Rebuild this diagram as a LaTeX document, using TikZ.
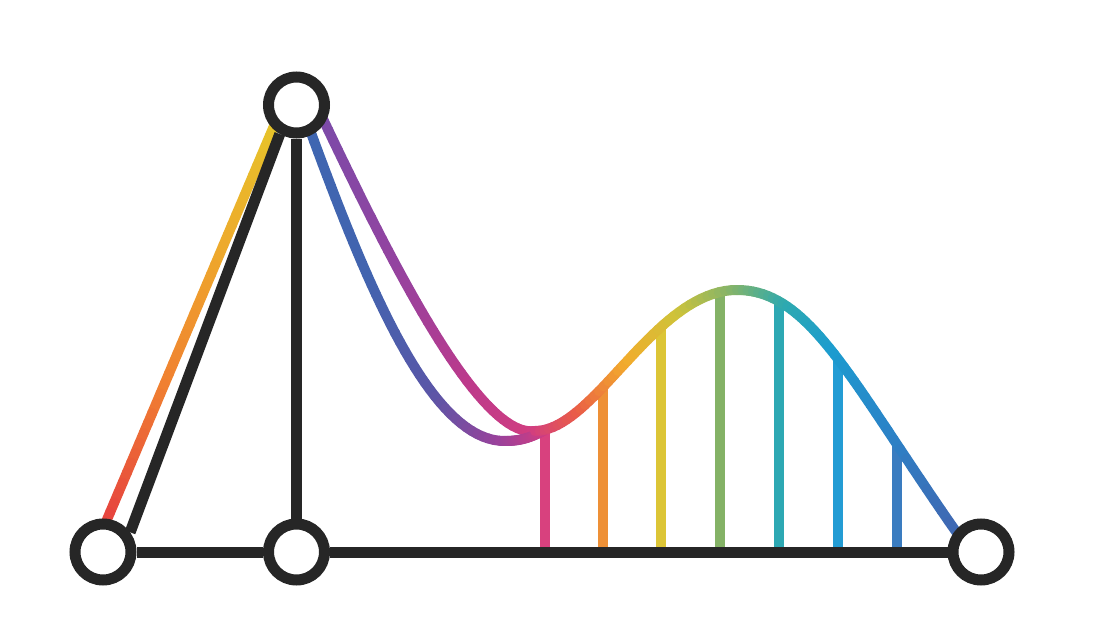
\documentclass[tikz,border=0pt]{standalone}
\usepackage{xcolor}
\definecolor{ink}{HTML}{262626}
% left straight line (top -> bottom)
\definecolor{lft0}{HTML}{E6C42A}
\definecolor{lft1}{HTML}{EEA82C}
\definecolor{lft2}{HTML}{F07F31}
\definecolor{lft3}{HTML}{E6443F}
% purple curve
\definecolor{pur0}{HTML}{7B4BA8}
\definecolor{pur1}{HTML}{9343A0}
\definecolor{pur2}{HTML}{BD3A8B}
\definecolor{pur3}{HTML}{D23E80}
% blue curve
\definecolor{blu0}{HTML}{3F66B1}
\definecolor{blu1}{HTML}{4264AF}
\definecolor{blu2}{HTML}{5A56A7}
\definecolor{blu3}{HTML}{9E419A}
\definecolor{bla0}{HTML}{9E419A}
\definecolor{bla1}{HTML}{CF3D82}
% main curve rising part
\definecolor{mna0}{HTML}{D23E80}
\definecolor{mna1}{HTML}{EA5E46}
\definecolor{mna2}{HTML}{F2AC2C}
\definecolor{mna3}{HTML}{CEC33A}
\definecolor{mna4}{HTML}{80B36C}
% main curve falling part
\definecolor{mnb0}{HTML}{80B36C}
\definecolor{mnb1}{HTML}{2EAAAF}
\definecolor{mnb2}{HTML}{1C9CCF}
\definecolor{mnb3}{HTML}{2A84C8}
\definecolor{mnb4}{HTML}{4068B2}
% verticals
\definecolor{vc1}{HTML}{D8417E}
\definecolor{vc2}{HTML}{EE9036}
\definecolor{vc3}{HTML}{DCC536}
\definecolor{vc4}{HTML}{84B266}
\definecolor{vc5}{HTML}{2DA8B3}
\definecolor{vc6}{HTML}{239CD4}
\definecolor{vc7}{HTML}{3A7CC0}
\tikzset{
  colline/.style={line width=10pt, line cap=round},
  vline/.style={line width=10pt},
  blk/.style={draw=ink, line width=11pt},
  nd/.style={circle, draw=ink, fill=white, line width=11pt, minimum size=56pt, inner sep=0pt},
}
% cubic Bezier drawn in 40 pieces with a colour gradient; \gzN = number of stops
\def\bezgrad(#1,#2)(#3,#4)(#5,#6)(#7,#8)#9{%
  \foreach \gzI in {0,...,39}{%
    \pgfmathsetmacro\gzTa{\gzI/40}%
    \pgfmathsetmacro\gzTb{(\gzI+1)/40}%
    \pgfmathsetmacro\gzXa{(1-\gzTa)^3*(#1)+3*(1-\gzTa)^2*\gzTa*(#3)+3*(1-\gzTa)*\gzTa^2*(#5)+\gzTa^3*(#7)}%
    \pgfmathsetmacro\gzYa{(1-\gzTa)^3*(#2)+3*(1-\gzTa)^2*\gzTa*(#4)+3*(1-\gzTa)*\gzTa^2*(#6)+\gzTa^3*(#8)}%
    \pgfmathsetmacro\gzXb{(1-\gzTb)^3*(#1)+3*(1-\gzTb)^2*\gzTb*(#3)+3*(1-\gzTb)*\gzTb^2*(#5)+\gzTb^3*(#7)}%
    \pgfmathsetmacro\gzYb{(1-\gzTb)^3*(#2)+3*(1-\gzTb)^2*\gzTb*(#4)+3*(1-\gzTb)*\gzTb^2*(#6)+\gzTb^3*(#8)}%
    \pgfmathsetmacro\gzS{(\gzI+0.5)/40*(\gzN-1)}%
    \pgfmathtruncatemacro\gzK{floor(\gzS)}%
    \pgfmathtruncatemacro\gzKK{\gzK+1}%
    \pgfmathtruncatemacro\gzP{round((\gzS-\gzK)*100)}%
    \colorlet{gzc}{#9\gzKK!\gzP!#9\gzK}%
    \draw[colline, gzc] (\gzXa,\gzYa) -- (\gzXb,\gzYb);
  }%
}
\begin{document}
\begin{tikzpicture}[x=1pt, y=-1pt]
\useasboundingbox[fill=white] (0,0) rectangle (1112,634);

% coloured verticals
\draw[vline, vc1] (545,429) -- (545,552);
\draw[vline, vc2] (603,386) -- (603,552);
\draw[vline, vc3] (661,326) -- (661,552);
\draw[vline, vc4] (720,292) -- (720,552);
\draw[vline, vc5] (779,301) -- (779,552);
\draw[vline, vc6] (838,359) -- (838,552);
\draw[vline, vc7] (897,445) -- (897,552);

% coloured curves
\def\gzN{4}
\bezgrad(274,126)(218,258)(162,390)(106,522){lft}
\bezgrad(323,119)(390,260)(480,440)(535,431){pur}
\bezgrad(310,130)(365,280)(430,442)(505,441){blu}
\def\gzN{2}
\bezgrad(505,441)(522,441)(532,437)(545,430){bla}
\def\gzN{5}
\bezgrad(535,431)(595,431)(655,290)(737,290){mna}
\bezgrad(737,290)(810,290)(850,380)(957,533){mnb}

% nodes
\node[nd] (T)  at (296.5,105) {};
\node[nd] (BL) at (103,552) {};
\node[nd] (BM) at (296.5,552) {};
\node[nd] (R)  at (981,552) {};

% black connectors
\draw[blk] (BL) -- (BM);
\draw[blk] (BM) -- (R);
\draw[blk] (T) -- (BM);
\draw[blk] (T.240) -- (BL.36);
\end{tikzpicture}
\end{document}
